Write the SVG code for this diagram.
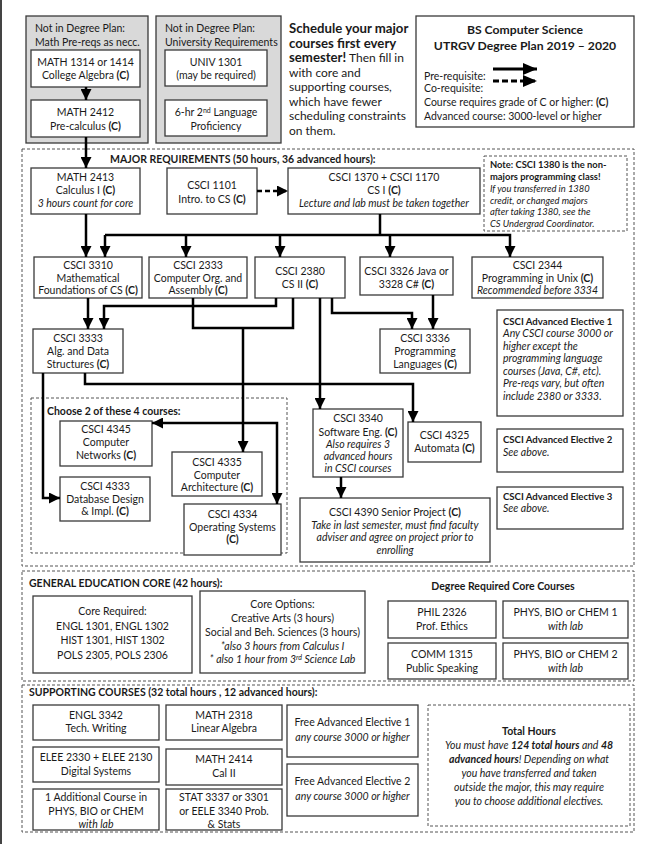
<svg xmlns="http://www.w3.org/2000/svg" width="654" height="844" viewBox="0 0 654 844">
<style>
.box{fill:#fff;stroke:#3a3a3a;stroke-width:1.3}
.gbox{fill:#d9d9d9;stroke:#3a3a3a;stroke-width:1.3}
.dash{fill:none;stroke:#555;stroke-width:1;stroke-dasharray:3 2}
.dashb{fill:#fff;stroke:#555;stroke-width:1;stroke-dasharray:3 2}
text{font-family:Lato,"Open Sans","Liberation Sans",sans-serif;font-size:10.5px;fill:#1a1a1a}
.c{text-anchor:middle}
.b{font-weight:bold}
.i{font-style:italic}
.sm{font-size:9.4px}
.big{font-size:12px}
.bigb{font-size:13.2px;font-weight:bold}
.ttl{font-size:12.2px;font-weight:bold}
.eh{font-size:9.6px;font-weight:bold}
.conn{fill:none;stroke:#000;stroke-width:2.5}
</style>
<defs>
<marker id="ah" markerUnits="userSpaceOnUse" markerWidth="11" markerHeight="11" refX="11" refY="5.5" orient="auto" viewBox="0 0 11 11"><path d="M0,0 L11,5.5 L0,11 z" fill="#000"/></marker>
<marker id="ahl" markerUnits="userSpaceOnUse" markerWidth="14" markerHeight="12" refX="14" refY="6" orient="auto" viewBox="0 0 14 12"><path d="M0,0 L14,6 L0,12 z" fill="#000"/></marker>
</defs>
<rect width="654" height="844" fill="#fff"/>
<line x1="1" y1="0" x2="1" y2="844" stroke="#444" stroke-width="2"/>

<!-- section containers -->
<g id="major-section">
<rect class="dash" x="22" y="149" width="612" height="417"/>
<text class="b" x="110" y="163">MAJOR REQUIREMENTS (50 hours, 36 advanced hours):</text>
</g>
<g id="choose-section">
<rect class="dash" x="31" y="398" width="256" height="155"/>
<text class="b" x="47" y="415">Choose 2 of these 4 courses:</text>
</g>
<g id="gened-section">
<rect class="dash" x="22" y="571" width="612" height="110"/>
<text class="b" x="29" y="587">GENERAL EDUCATION CORE (42 hours):</text>
<text class="b c" x="503" y="590">Degree Required Core Courses</text>
</g>
<g id="supporting-section">
<rect class="dash" x="22" y="685" width="612" height="147"/>
<text class="b" x="29" y="696">SUPPORTING COURSES (32 total hours , 12 advanced hours):</text>
</g>

<!-- top area -->
<g id="math-prereqs">
<rect class="gbox" x="26" y="16" width="122" height="127"/>
<text x="35" y="32">Not in Degree Plan:</text>
<text x="35" y="46">Math Pre-reqs as necc.</text>
</g>
<g id="math1314">
<rect class="box" x="31" y="50" width="109" height="37"/>
<text class="c" x="85.5" y="66">MATH 1314 or 1414</text>
<text class="c" x="85.5" y="79">College Algebra <tspan class="b">(C)</tspan></text>
</g>
<g id="math2412">
<rect class="box" x="31" y="100" width="109" height="37"/>
<text class="c" x="85.5" y="116">MATH 2412</text>
<text class="c" x="85.5" y="130">Pre-calculus <tspan class="b">(C)</tspan></text>
</g>
<g id="univ-reqs">
<rect class="gbox" x="156" y="16" width="125" height="127"/>
<text x="165" y="32">Not in Degree Plan:</text>
<text x="165" y="46">University Requirements</text>
</g>
<g id="univ1301">
<rect class="box" x="165" y="50" width="102" height="36"/>
<text class="c" x="216" y="66">UNIV 1301</text>
<text class="c" x="216" y="79">(may be required)</text>
</g>
<g id="language">
<rect class="box" x="165" y="100" width="102" height="36"/>
<text class="c" x="216" y="116">6-hr 2<tspan font-size="7" dy="-3.5">nd</tspan><tspan dy="3.5"> Language</tspan></text>
<text class="c" x="216" y="130">Proficiency</text>
</g>
<g id="schedule-note">
<text class="bigb" x="289" y="33">Schedule your major</text>
<text class="bigb" x="289" y="47.5">courses first every</text>
<text class="big" x="289" y="62"><tspan class="bigb">semester!</tspan> Then fill in</text>
<text class="big" x="289" y="76.5">with core and</text>
<text class="big" x="289" y="91">supporting courses,</text>
<text class="big" x="289" y="105.5">which have fewer</text>
<text class="big" x="289" y="120">scheduling constraints</text>
<text class="big" x="289" y="134.5">on them.</text>
</g>
<g id="title-legend">
<rect class="box" x="416" y="16" width="218" height="111"/>
<text class="ttl c" x="525" y="34">BS Computer Science</text>
<text class="ttl c" x="525" y="50">UTRGV Degree Plan 2019 – 2020</text>
<text x="424" y="80">Pre-requisite:</text>
<text x="424" y="92">Co-requisite:</text>
<text x="424" y="106">Course requires grade of C or higher: <tspan class="b">(C)</tspan></text>
<text x="424" y="120">Advanced course: 3000-level or higher</text>
<line x1="493" y1="69" x2="537" y2="69" stroke="#000" stroke-width="3" marker-end="url(#ahl)"/>
<line x1="493" y1="81" x2="537" y2="81" stroke="#000" stroke-width="3" stroke-dasharray="6 3" marker-end="url(#ahl)"/>
</g>

<!-- major courses -->
<g id="math2413">
<rect class="box" x="31" y="168" width="109" height="46"/>
<text class="c" x="85.5" y="181">MATH 2413</text>
<text class="c" x="85.5" y="194">Calculus I <tspan class="b">(C)</tspan></text>
<text class="c i" x="85.5" y="207">3 hours count for core</text>
</g>
<g id="csci1101">
<rect class="box" x="167" y="168" width="90" height="46"/>
<text class="c" x="212" y="189">CSCI 1101</text>
<text class="c" x="212" y="203">Intro. to CS <tspan class="b">(C)</tspan></text>
</g>
<g id="csci1370">
<rect class="box" x="288" y="168" width="192" height="46"/>
<text class="c" x="384" y="181">CSCI 1370 + CSCI 1170</text>
<text class="c" x="384" y="194">CS I <tspan class="b">(C)</tspan></text>
<text class="c i" x="384" y="207">Lecture and lab must be taken together</text>
</g>
<g id="note1380">
<rect class="dashb" x="484" y="156" width="143" height="75"/>
<text class="sm b" x="490" y="168">Note: CSCI 1380 is the non-</text>
<text class="sm b" x="490" y="180">majors programming class!</text>
<text class="sm i" x="490" y="192">If you transferred in 1380</text>
<text class="sm i" x="490" y="203.5">credit, or changed majors</text>
<text class="sm i" x="490" y="215">after taking 1380, see the</text>
<text class="sm i" x="490" y="226.5">CS Undergrad Coordinator.</text>
</g>
<g id="csci3310">
<rect class="box" x="34" y="257" width="108" height="41"/>
<text class="c" x="88" y="269">CSCI 3310</text>
<text class="c" x="88" y="282">Mathematical</text>
<text class="c" x="88" y="294">Foundations of CS <tspan class="b">(C)</tspan></text>
</g>
<g id="csci2333">
<rect class="box" x="149" y="257" width="98" height="41"/>
<text class="c" x="198" y="269">CSCI 2333</text>
<text class="c" x="198" y="282">Computer Org. and</text>
<text class="c" x="198" y="294">Assembly <tspan class="b">(C)</tspan></text>
</g>
<g id="csci2380">
<rect class="box" x="255" y="257" width="90" height="41"/>
<text class="c" x="300" y="275">CSCI 2380</text>
<text class="c" x="300" y="288">CS II <tspan class="b">(C)</tspan></text>
</g>
<g id="csci3326">
<rect class="box" x="360" y="257" width="93" height="38"/>
<text class="c" x="406.5" y="275">CSCI 3326 Java  or</text>
<text class="c" x="406.5" y="288">3328 C# <tspan class="b">(C)</tspan></text>
</g>
<g id="csci2344">
<rect class="box" x="472" y="257" width="131" height="41"/>
<text class="c" x="537.5" y="269">CSCI 2344</text>
<text class="c" x="537.5" y="282">Programming in Unix <tspan class="b">(C)</tspan></text>
<text class="c i" x="537.5" y="294">Recommended before 3334</text>
</g>
<g id="csci3333">
<rect class="box" x="33" y="329" width="90" height="44"/>
<text class="c" x="78" y="342">CSCI 3333</text>
<text class="c" x="78" y="355">Alg. and Data</text>
<text class="c" x="78" y="368">Structures <tspan class="b">(C)</tspan></text>
</g>
<g id="csci3336">
<rect class="box" x="380" y="329" width="90" height="44"/>
<text class="c" x="425" y="342">CSCI 3336</text>
<text class="c" x="425" y="355">Programming</text>
<text class="c" x="425" y="368">Languages <tspan class="b">(C)</tspan></text>
</g>
<g id="elective1">
<rect class="box" x="497" y="310" width="126" height="106"/>
<text class="eh" x="503" y="324.5">CSCI Advanced Elective 1</text>
<text class="i" x="503" y="337">Any CSCI course 3000 or</text>
<text class="i" x="503" y="349.5">higher except the</text>
<text class="i" x="503" y="362">programming language</text>
<text class="i" x="503" y="374.5">courses (Java, C#, etc).</text>
<text class="i" x="503" y="387">Pre-reqs vary, but often</text>
<text class="i" x="503" y="399.5">include 2380 or 3333.</text>
</g>
<g id="csci4345">
<rect class="box" x="60" y="421" width="92" height="45"/>
<text class="c" x="106" y="433">CSCI 4345</text>
<text class="c" x="106" y="446">Computer</text>
<text class="c" x="106" y="459">Networks <tspan class="b">(C)</tspan></text>
</g>
<g id="csci4333">
<rect class="box" x="60" y="477" width="90" height="44"/>
<text class="c" x="105" y="490">CSCI 4333</text>
<text class="c" x="105" y="503">Database Design</text>
<text class="c" x="105" y="515">&amp; Impl. <tspan class="b">(C)</tspan></text>
</g>
<g id="csci4335">
<rect class="box" x="172" y="452" width="90" height="44"/>
<text class="c" x="217" y="466">CSCI 4335</text>
<text class="c" x="217" y="479">Computer</text>
<text class="c" x="217" y="491">Architecture <tspan class="b">(C)</tspan></text>
</g>
<g id="csci4334">
<rect class="box" x="184" y="504" width="97" height="51"/>
<text class="c" x="232.5" y="518">CSCI 4334</text>
<text class="c" x="232.5" y="531">Operating Systems</text>
<text class="c b" x="232.5" y="543">(C)</text>
</g>
<g id="csci3340">
<rect class="box" x="313" y="409" width="90" height="68"/>
<text class="c" x="358" y="422">CSCI 3340</text>
<text class="c" x="358" y="436">Software Eng. <tspan class="b">(C)</tspan></text>
<text class="c i" x="358" y="448">Also requires 3</text>
<text class="c i" x="358" y="460">advanced hours</text>
<text class="c i" x="358" y="472">in CSCI courses</text>
</g>
<g id="csci4325">
<rect class="box" x="408" y="422" width="73" height="40"/>
<text class="c" x="444.5" y="439">CSCI 4325</text>
<text class="c" x="444.5" y="452">Automata <tspan class="b">(C)</tspan></text>
</g>
<g id="csci4390">
<rect class="box" x="300" y="498" width="190" height="64"/>
<text class="c" x="395" y="516">CSCI 4390 Senior Project <tspan class="b">(C)</tspan></text>
<text class="c i" x="395" y="529">Take in last semester, must find faculty</text>
<text class="c i" x="395" y="541">adviser and agree on project prior to</text>
<text class="c i" x="395" y="554">enrolling</text>
</g>
<g id="elective2">
<rect class="box" x="497" y="429" width="126" height="43"/>
<text class="eh" x="503" y="443">CSCI Advanced Elective 2</text>
<text class="i" x="503" y="456">See above.</text>
</g>
<g id="elective3">
<rect class="box" x="497" y="487" width="126" height="42"/>
<text class="eh" x="503" y="500">CSCI Advanced Elective 3</text>
<text class="i" x="503" y="512">See above.</text>
</g>

<!-- general education -->
<g id="core-required">
<rect class="box" x="33" y="596" width="159" height="77"/>
<text class="c" x="112.5" y="615">Core Required:</text>
<text class="c" x="112.5" y="630">ENGL 1301, ENGL 1302</text>
<text class="c" x="112.5" y="644">HIST 1301, HIST 1302</text>
<text class="c" x="112.5" y="659">POLS 2305, POLS 2306</text>
</g>
<g id="core-options">
<rect class="box" x="200" y="591" width="165" height="82"/>
<text class="c" x="282.5" y="608">Core Options:</text>
<text class="c" x="282.5" y="622">Creative Arts (3 hours)</text>
<text class="c" x="282.5" y="636">Social and Beh. Sciences (3 hours)</text>
<text class="c i" x="282.5" y="650">*also 3 hours from Calculus I</text>
<text class="c i" x="282.5" y="663">* also 1 hour from 3<tspan font-size="7" dy="-3.5">rd</tspan><tspan dy="3.5"> Science Lab</tspan></text>
</g>
<g id="phil2326">
<rect class="box" x="388" y="601" width="108" height="37"/>
<text class="c" x="442" y="616">PHIL 2326</text>
<text class="c" x="442" y="630">Prof. Ethics</text>
</g>
<g id="science1">
<rect class="box" x="503" y="601" width="125" height="37"/>
<text class="c" x="565.5" y="616">PHYS, BIO or CHEM 1</text>
<text class="c i" x="565.5" y="630">with lab</text>
</g>
<g id="comm1315">
<rect class="box" x="388" y="643" width="108" height="36"/>
<text class="c" x="442" y="658">COMM 1315</text>
<text class="c" x="442" y="672">Public Speaking</text>
</g>
<g id="science2">
<rect class="box" x="503" y="643" width="125" height="36"/>
<text class="c" x="565.5" y="658">PHYS, BIO or CHEM 2</text>
<text class="c i" x="565.5" y="672">with lab</text>
</g>

<!-- supporting -->
<g id="engl3342">
<rect class="box" x="33" y="705" width="126" height="35"/>
<text class="c" x="96" y="719">ENGL 3342</text>
<text class="c" x="96" y="732">Tech. Writing</text>
</g>
<g id="math2318">
<rect class="box" x="166" y="705" width="116" height="35"/>
<text class="c" x="224" y="719">MATH 2318</text>
<text class="c" x="224" y="732">Linear Algebra</text>
</g>
<g id="elee2330">
<rect class="box" x="33" y="747" width="126" height="35"/>
<text class="c" x="96" y="761">ELEE 2330 + ELEE 2130</text>
<text class="c" x="96" y="775">Digital Systems</text>
</g>
<g id="math2414">
<rect class="box" x="166" y="749" width="116" height="36"/>
<text class="c" x="224" y="763">MATH 2414</text>
<text class="c" x="224" y="777">Cal II</text>
</g>
<g id="science3">
<rect class="box" x="33" y="789" width="126" height="41"/>
<text class="c" x="96" y="801">1 Additional Course in</text>
<text class="c" x="96" y="815">PHYS, BIO or CHEM</text>
<text class="c i" x="96" y="828">with lab</text>
</g>
<g id="stat3337">
<rect class="box" x="166" y="789" width="116" height="41"/>
<text class="c" x="224" y="801">STAT 3337 or 3301</text>
<text class="c" x="224" y="815">or EELE 3340 Prob.</text>
<text class="c" x="224" y="828">&amp; Stats</text>
</g>
<g id="free1">
<rect class="box" x="287" y="705" width="131" height="52"/>
<text class="c" x="352.5" y="726">Free Advanced Elective 1</text>
<text class="c i" x="352.5" y="741">any course 3000 or higher</text>
</g>
<g id="free2">
<rect class="box" x="287" y="764" width="131" height="52"/>
<text class="c" x="352.5" y="785">Free Advanced Elective 2</text>
<text class="c i" x="352.5" y="800">any course 3000 or higher</text>
</g>
<g id="total-hours">
<rect class="dash" x="428" y="705" width="202" height="121"/>
<text class="c b" x="529" y="735">Total Hours</text>
<text class="c i" x="529" y="749">You must have <tspan class="b">124 total hours</tspan> and <tspan class="b">48</tspan></text>
<text class="c i" x="529" y="763"><tspan class="b">advanced hours</tspan>! Depending on what</text>
<text class="c i" x="529" y="777">you have transferred and taken</text>
<text class="c i" x="529" y="791">outside the major, this may require</text>
<text class="c i" x="529" y="805">you to choose additional electives.</text>
</g>

<!-- connectors -->
<g id="connectors">
<path class="conn" d="M86 87 V100" marker-end="url(#ah)"/>
<path class="conn" d="M86 137 V168" marker-end="url(#ah)"/>
<path class="conn" d="M257 191 H288" stroke-dasharray="5 3" marker-end="url(#ah)"/>
<path class="conn" d="M86 214 V257" marker-end="url(#ah)"/>
<path class="conn" d="M380 214 V235"/>
<path class="conn" d="M105 235 H510 V257" marker-end="url(#ah)"/>
<path class="conn" d="M105 235 V257" marker-end="url(#ah)"/>
<path class="conn" d="M186 235 V257" marker-end="url(#ah)"/>
<path class="conn" d="M280 235 V257" marker-end="url(#ah)"/>
<path class="conn" d="M390 235 V257" marker-end="url(#ah)"/>
<path class="conn" d="M88 298 V329" marker-end="url(#ah)"/>
<path class="conn" d="M276 298 V306 H104 V329" marker-end="url(#ah)"/>
<path class="conn" d="M193 298 V328 H293 V298"/>
<path class="conn" d="M243 328 V452" marker-end="url(#ah)"/>
<path class="conn" d="M243 423 H152" marker-end="url(#ah)"/>
<path class="conn" d="M243 423 H277 V504" marker-end="url(#ah)"/>
<path class="conn" d="M320 298 V409" marker-end="url(#ah)"/>
<path class="conn" d="M332 298 V313 H412 V329" marker-end="url(#ah)"/>
<path class="conn" d="M433 295 V329" marker-end="url(#ah)"/>
<path class="conn" d="M43 373 V498 H60" marker-end="url(#ah)"/>
<path class="conn" d="M85 373 V384 H413 V422" marker-end="url(#ah)"/>
<path class="conn" d="M341 477 V498" marker-end="url(#ah)"/>
</g>
</svg>
